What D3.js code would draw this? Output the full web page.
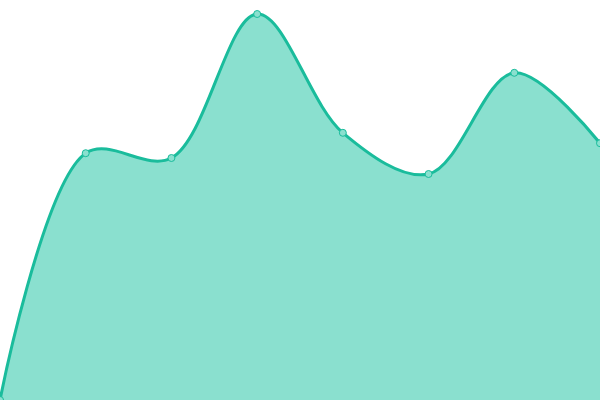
<!DOCTYPE html>
<html>
<head>
<meta charset="utf-8">
<script src="https://cdn.jsdelivr.net/npm/d3@7"></script>
<style>
  body { margin: 0; background: #fff; }
</style>
</head>
<body>
<script>
// data
const labels = ["a", "b", "c", "d", "e", "f", "g", "h"];
const values = [0, 61.7, 60.5, 96.5, 66.8, 56.5, 81.8, 64.2];

const dims = { width: 600, height: 400 };

const svg = d3.select("body").append("svg")
    .attr("width", dims.width)
    .attr("height", dims.height);

const x = d3.scalePoint()
    .domain(labels)
    .range([0, dims.width]);

const y = d3.scaleLinear()
    .domain([0, 100])
    .range([dims.height, 0]);

const data = labels.map((l, i) => ({ label: l, value: values[i] }));

const curve = d3.curveCatmullRom;

// area fill
svg.append("path")
    .datum(data)
    .attr("fill", "#8ae0cf")
    .attr("d", d3.area()
        .x(d => x(d.label))
        .y0(dims.height)
        .y1(d => y(d.value))
        .curve(curve));

// line
svg.append("path")
    .datum(data)
    .attr("fill", "none")
    .attr("stroke", "#1abc9c")
    .attr("stroke-width", 3)
    .attr("d", d3.line()
        .x(d => x(d.label))
        .y(d => y(d.value))
        .curve(curve));

// points
svg.selectAll("circle")
    .data(data)
  .enter()
    .append("circle")
        .attr("cx", d => x(d.label))
        .attr("cy", d => y(d.value))
        .attr("r", 3.5)
        .attr("fill", "#8ae0cf")
        .attr("stroke", "#1abc9c")
        .attr("stroke-width", 1);
</script>
</body>
</html>
